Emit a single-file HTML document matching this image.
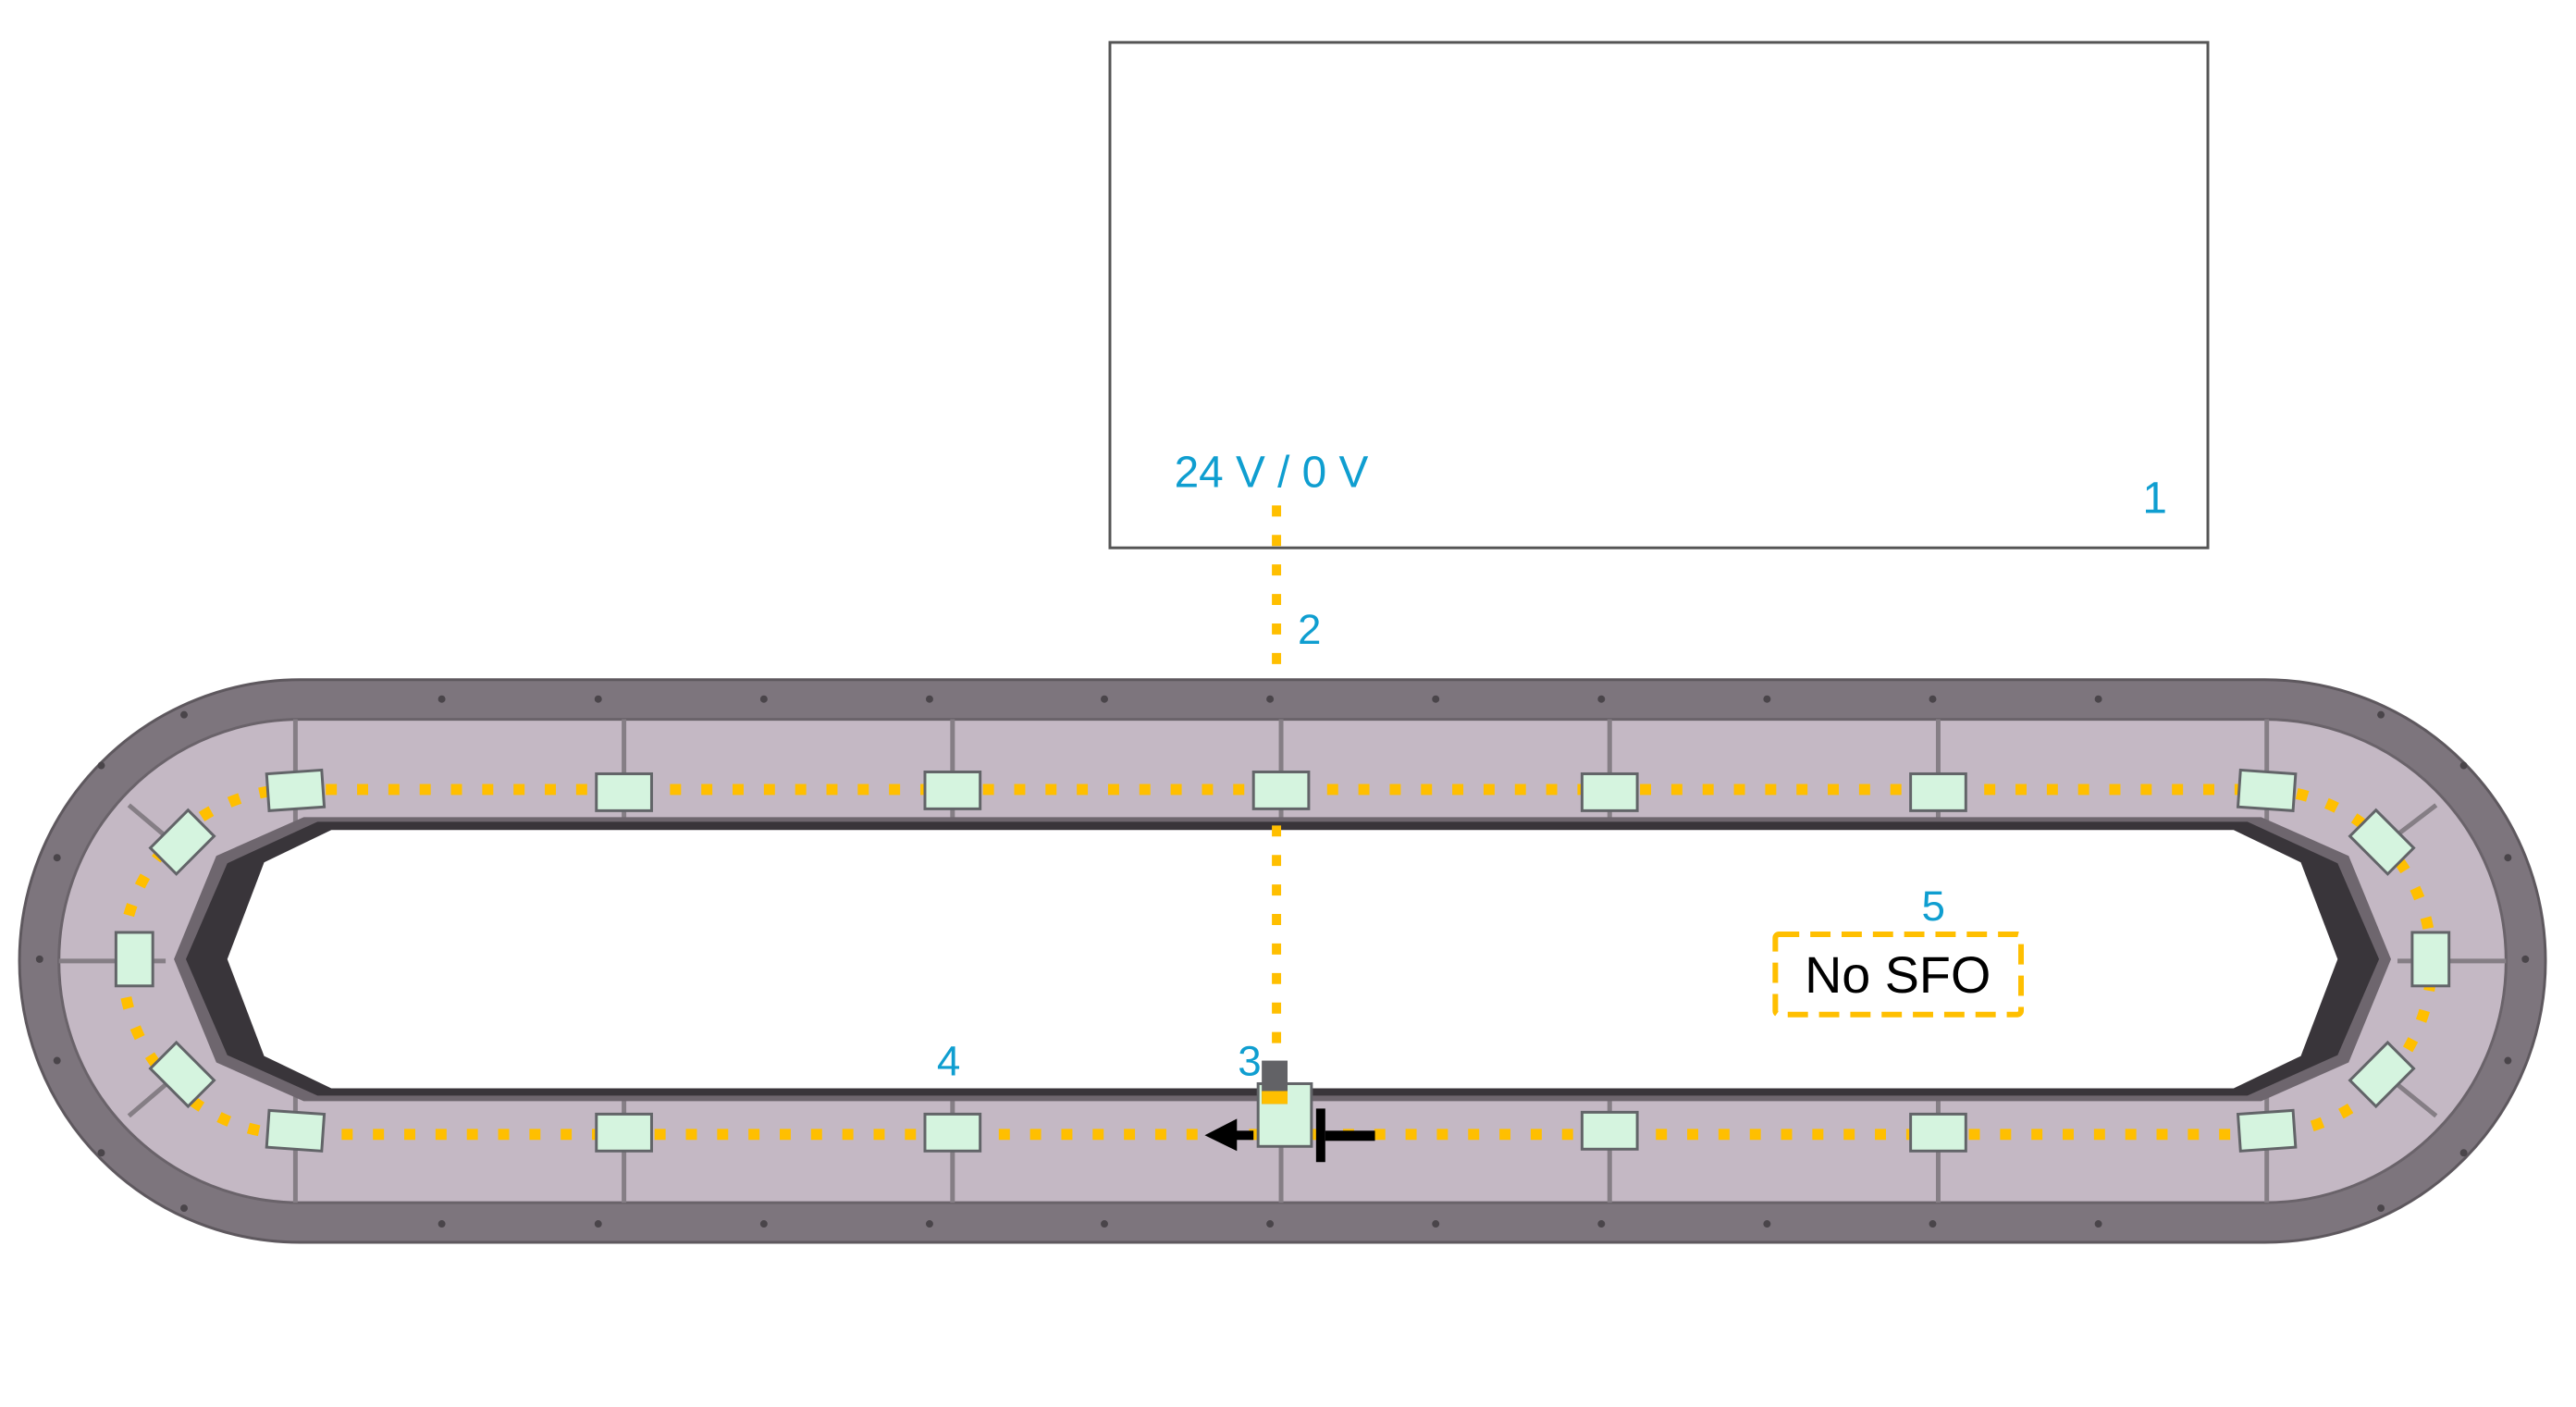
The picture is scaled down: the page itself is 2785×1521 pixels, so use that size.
<!DOCTYPE html>
<html><head><meta charset="utf-8"><style>
html,body{margin:0;padding:0;background:#fff;}
svg{display:block;}
text{font-family:"Liberation Sans",sans-serif;}
</style></head><body>
<svg width="2785" height="1521" viewBox="0 0 2785 1521" xmlns="http://www.w3.org/2000/svg">
<rect x="0" y="0" width="2785" height="1521" fill="#fff"/>
<g transform="scale(0.995,0.997)">
<rect x="1206" y="46" width="1193" height="548" fill="#fff" stroke="#555" stroke-width="3"/>
<text x="1276" y="528" font-size="48" fill="#0f9ed0">24 V / 0 V</text>
<text x="2328" y="556" font-size="48" fill="#0f9ed0">1</text>
<path d="M326 737 H2461 A305 305 0 0 1 2461 1347 H326 A305 305 0 0 1 326 737 Z" fill="#7d757d" stroke="#5e585e" stroke-width="3"/>
<path d="M326 780 H2461 A262 262 0 0 1 2461 1304 H326 A262 262 0 0 1 326 780 Z" fill="#c4b8c4" stroke="#6a636a" stroke-width="3"/>
<g fill="#4a454a">
<circle cx="480" cy="758" r="4"/><circle cx="650" cy="758" r="4"/><circle cx="830" cy="758" r="4"/><circle cx="1010" cy="758" r="4"/><circle cx="1200" cy="758" r="4"/><circle cx="1380" cy="758" r="4"/><circle cx="1560" cy="758" r="4"/><circle cx="1740" cy="758" r="4"/><circle cx="1920" cy="758" r="4"/><circle cx="2100" cy="758" r="4"/><circle cx="2280" cy="758" r="4"/>
<circle cx="480" cy="1327" r="4"/><circle cx="650" cy="1327" r="4"/><circle cx="830" cy="1327" r="4"/><circle cx="1010" cy="1327" r="4"/><circle cx="1200" cy="1327" r="4"/><circle cx="1380" cy="1327" r="4"/><circle cx="1560" cy="1327" r="4"/><circle cx="1740" cy="1327" r="4"/><circle cx="1920" cy="1327" r="4"/><circle cx="2100" cy="1327" r="4"/><circle cx="2280" cy="1327" r="4"/>
<circle cx="43" cy="1040" r="4"/><circle cx="62" cy="930" r="4"/><circle cx="62" cy="1150" r="4"/><circle cx="110" cy="830" r="4"/><circle cx="110" cy="1250" r="4"/><circle cx="200" cy="775" r="4"/><circle cx="200" cy="1310" r="4"/>
<circle cx="2744" cy="1040" r="4"/><circle cx="2725" cy="930" r="4"/><circle cx="2725" cy="1150" r="4"/><circle cx="2677" cy="830" r="4"/><circle cx="2677" cy="1250" r="4"/><circle cx="2587" cy="775" r="4"/><circle cx="2587" cy="1310" r="4"/>
</g>
<g stroke="#857e85" stroke-width="5">
<line x1="321" y1="780" x2="321" y2="893"/><line x1="678" y1="780" x2="678" y2="893"/><line x1="1035" y1="780" x2="1035" y2="893"/><line x1="1392" y1="780" x2="1392" y2="893"/><line x1="1749" y1="780" x2="1749" y2="893"/><line x1="2106" y1="780" x2="2106" y2="893"/><line x1="2463" y1="780" x2="2463" y2="893"/>
<line x1="321" y1="1187" x2="321" y2="1304"/><line x1="678" y1="1187" x2="678" y2="1304"/><line x1="1035" y1="1187" x2="1035" y2="1304"/><line x1="1392" y1="1187" x2="1392" y2="1304"/><line x1="1749" y1="1187" x2="1749" y2="1304"/><line x1="2106" y1="1187" x2="2106" y2="1304"/><line x1="2463" y1="1187" x2="2463" y2="1304"/>
<line x1="64" y1="1042" x2="180" y2="1042"/><line x1="140" y1="873" x2="178" y2="905"/><line x1="140" y1="1210" x2="180" y2="1176"/>
<line x1="2723" y1="1042" x2="2605" y2="1042"/><line x1="2647" y1="873" x2="2605" y2="905"/><line x1="2647" y1="1210" x2="2605" y2="1176"/>
</g>
<polygon points="330,886 2457,886 2552,928 2598,1040 2552,1152 2457,1194 330,1194 235,1152 189,1040 235,928" fill="#6e666e"/>
<polygon points="345,891 2442,891 2540,936 2585,1040 2540,1144 2442,1188 345,1188 247,1144 202,1040 247,936" fill="#39353a"/>
<polygon points="360,900 2427,900 2500,935 2540,1040 2500,1145 2427,1180 360,1180 287,1145 247,1040 287,935" fill="#fff"/>
<path d="M320 856 H2455 A187 187 0 0 1 2455 1230 H320 A187 187 0 0 1 320 856 Z" fill="none" stroke="#ffbf00" stroke-width="12" stroke-dasharray="12 22"/>
<line x1="1387" y1="548" x2="1387" y2="730" stroke="#ffbf00" stroke-width="10" stroke-dasharray="12 20"/>
<line x1="1387" y1="895" x2="1387" y2="1150" stroke="#ffbf00" stroke-width="10" stroke-dasharray="12 20"/>
<text x="1410" y="698" font-size="46" fill="#0f9ed0">2</text>
<g fill="#d5f4df" stroke="#626468" stroke-width="3">
<rect x="291" y="837" width="60" height="40" transform="rotate(-4 321 857)"/>
<rect x="648" y="839" width="60" height="40"/>
<rect x="1005" y="837" width="60" height="40"/>
<rect x="1362" y="837" width="60" height="40"/>
<rect x="1719" y="839" width="60" height="40"/>
<rect x="2076" y="839" width="60" height="40"/>
<rect x="2433" y="837" width="60" height="40" transform="rotate(4 2463 857)"/>
<rect x="291" y="1206" width="60" height="40" transform="rotate(4 321 1226)"/>
<rect x="648" y="1208" width="60" height="40"/>
<rect x="1005" y="1208" width="60" height="40"/>
<rect x="1719" y="1206" width="60" height="40"/>
<rect x="2076" y="1208" width="60" height="40"/>
<rect x="2433" y="1206" width="60" height="40" transform="rotate(-4 2463 1226)"/>
<rect x="126" y="1011" width="40" height="58"/>
<rect x="2621" y="1011" width="40" height="58"/>
<rect x="169" y="893" width="58" height="40" transform="rotate(-45 198 913)"/>
<rect x="169" y="1145" width="58" height="40" transform="rotate(45 198 1165)"/>
<rect x="2559" y="893" width="58" height="40" transform="rotate(45 2588 913)"/>
<rect x="2559" y="1145" width="58" height="40" transform="rotate(-45 2588 1165)"/>
<rect x="1367" y="1175" width="58" height="68"/>
</g>
<rect x="1371" y="1150" width="28" height="47" fill="#626266"/>
<rect x="1371" y="1183" width="28" height="14" fill="#ffbf00"/>
<rect x="1337" y="1226" width="25" height="10" fill="#000"/>
<polygon points="1309,1231 1344,1213 1344,1248" fill="#000"/>
<rect x="1430" y="1202" width="10" height="58" fill="#000"/>
<rect x="1440" y="1226" width="54" height="11" fill="#000"/>
<text x="1345" y="1166" font-size="46" fill="#0f9ed0">3</text>
<text x="1018" y="1166" font-size="46" fill="#0f9ed0">4</text>
<text x="2088" y="998" font-size="46" fill="#0f9ed0">5</text>
<rect x="1929" y="1013" width="267" height="87" fill="none" stroke="#ffbf00" stroke-width="6" stroke-dasharray="22 12" rx="4"/>
<text x="2062" y="1076" font-size="56" fill="#000" text-anchor="middle">No SFO</text>
</g>
</svg>
</body></html>
